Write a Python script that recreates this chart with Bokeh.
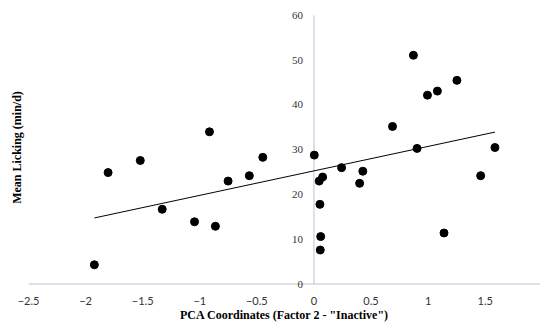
import numpy as np
from bokeh.plotting import figure
from bokeh.models import FixedTicker, Title, Range1d, Span, LabelSet, ColumnDataSource
from bokeh.embed import file_html
from bokeh.resources import INLINE

# Data
pca_x = [-1.923, -1.803, -1.521, -1.329, -1.046, -0.915, -0.863, -0.752, -0.566, -0.448,
         0.003, 0.046, 0.076, 0.052, 0.059, 0.055, 0.242, 0.400, 0.428, 0.688,
         0.871, 0.903, 0.994, 1.081, 1.252, 1.139, 1.460, 1.585]
licking = [4.3, 24.9, 27.6, 16.7, 13.9, 34.0, 12.9, 23.0, 24.2, 28.3,
           28.8, 23.0, 23.9, 17.8, 10.6, 7.6, 26.0, 22.5, 25.2, 35.2,
           51.1, 30.3, 42.2, 43.1, 45.5, 11.4, 24.2, 30.5]
x_ticks = [-2.5, -2, -1.5, -1, -0.5, 0, 0.5, 1, 1.5, 2]
y_ticks = [0, 10, 20, 30, 40, 50, 60]
y_tick_labels = [str(v) for v in y_ticks]

# Linear trendline (least squares)
slope, intercept = np.polyfit(pca_x, licking, 1)
trend_x = [min(pca_x), max(pca_x)]
trend_y = [slope * v + intercept for v in trend_x]

p = figure(frame_width=512, frame_height=282, output_backend="svg", toolbar_location=None,
           x_range=Range1d(-2.5, 1.984), y_range=Range1d(-1, 62),
           y_axis_location=None,
           min_border_left=28, min_border_right=0, min_border_top=6, min_border_bottom=39)
p.background_fill_color = "white"
p.border_fill_color = "white"
p.outline_line_color = None
p.grid.visible = False

axis_color = "#b9c4d6"
label_font = "Lato"
label_color = "#333333"

xa = p.xaxis[0]
xa.ticker = FixedTicker(ticks=x_ticks)
xa.axis_line_color = None
xa.major_tick_line_color = None
xa.minor_tick_line_color = None
xa.major_label_text_font = label_font
xa.major_label_text_font_size = "11px"
xa.major_label_text_color = label_color
xa.major_label_standoff = 2
xa.axis_label = 'PCA Coordinates (Factor 2 - "Inactive")'
xa.axis_label_text_font = "Liberation Serif"
xa.axis_label_text_font_style = "bold"
xa.axis_label_text_font_size = "12px"
xa.axis_label_text_color = "black"
xa.axis_label_standoff = 0

# horizontal axis line at y = 0 and vertical axis line at x = 0
p.add_layout(Span(location=0, dimension="width", line_color=axis_color, line_width=1))
p.segment(x0=[0], y0=[y_ticks[0]], x1=[0], y1=[y_ticks[-1]], line_color=axis_color, line_width=1)

ysrc = ColumnDataSource(dict(x=[0] * len(y_ticks), y=y_ticks, t=y_tick_labels))
p.add_layout(LabelSet(x="x", y="y", text="t", source=ysrc, x_offset=-11,
                      text_align="right", text_baseline="middle",
                      text_font=label_font, text_font_size="11px",
                      text_color=label_color))

p.add_layout(Title(text="Mean Licking (min/d)", align="center",
                   text_font="Liberation Serif", text_font_style="bold",
                   text_font_size="12px", text_color="black", standoff=10), "left")

p.line(trend_x, trend_y, line_color="black", line_width=1)
p.scatter(pca_x, licking, size=8, fill_color="black", line_color="black")

open("out.html", "w").write(file_html(p, INLINE))
